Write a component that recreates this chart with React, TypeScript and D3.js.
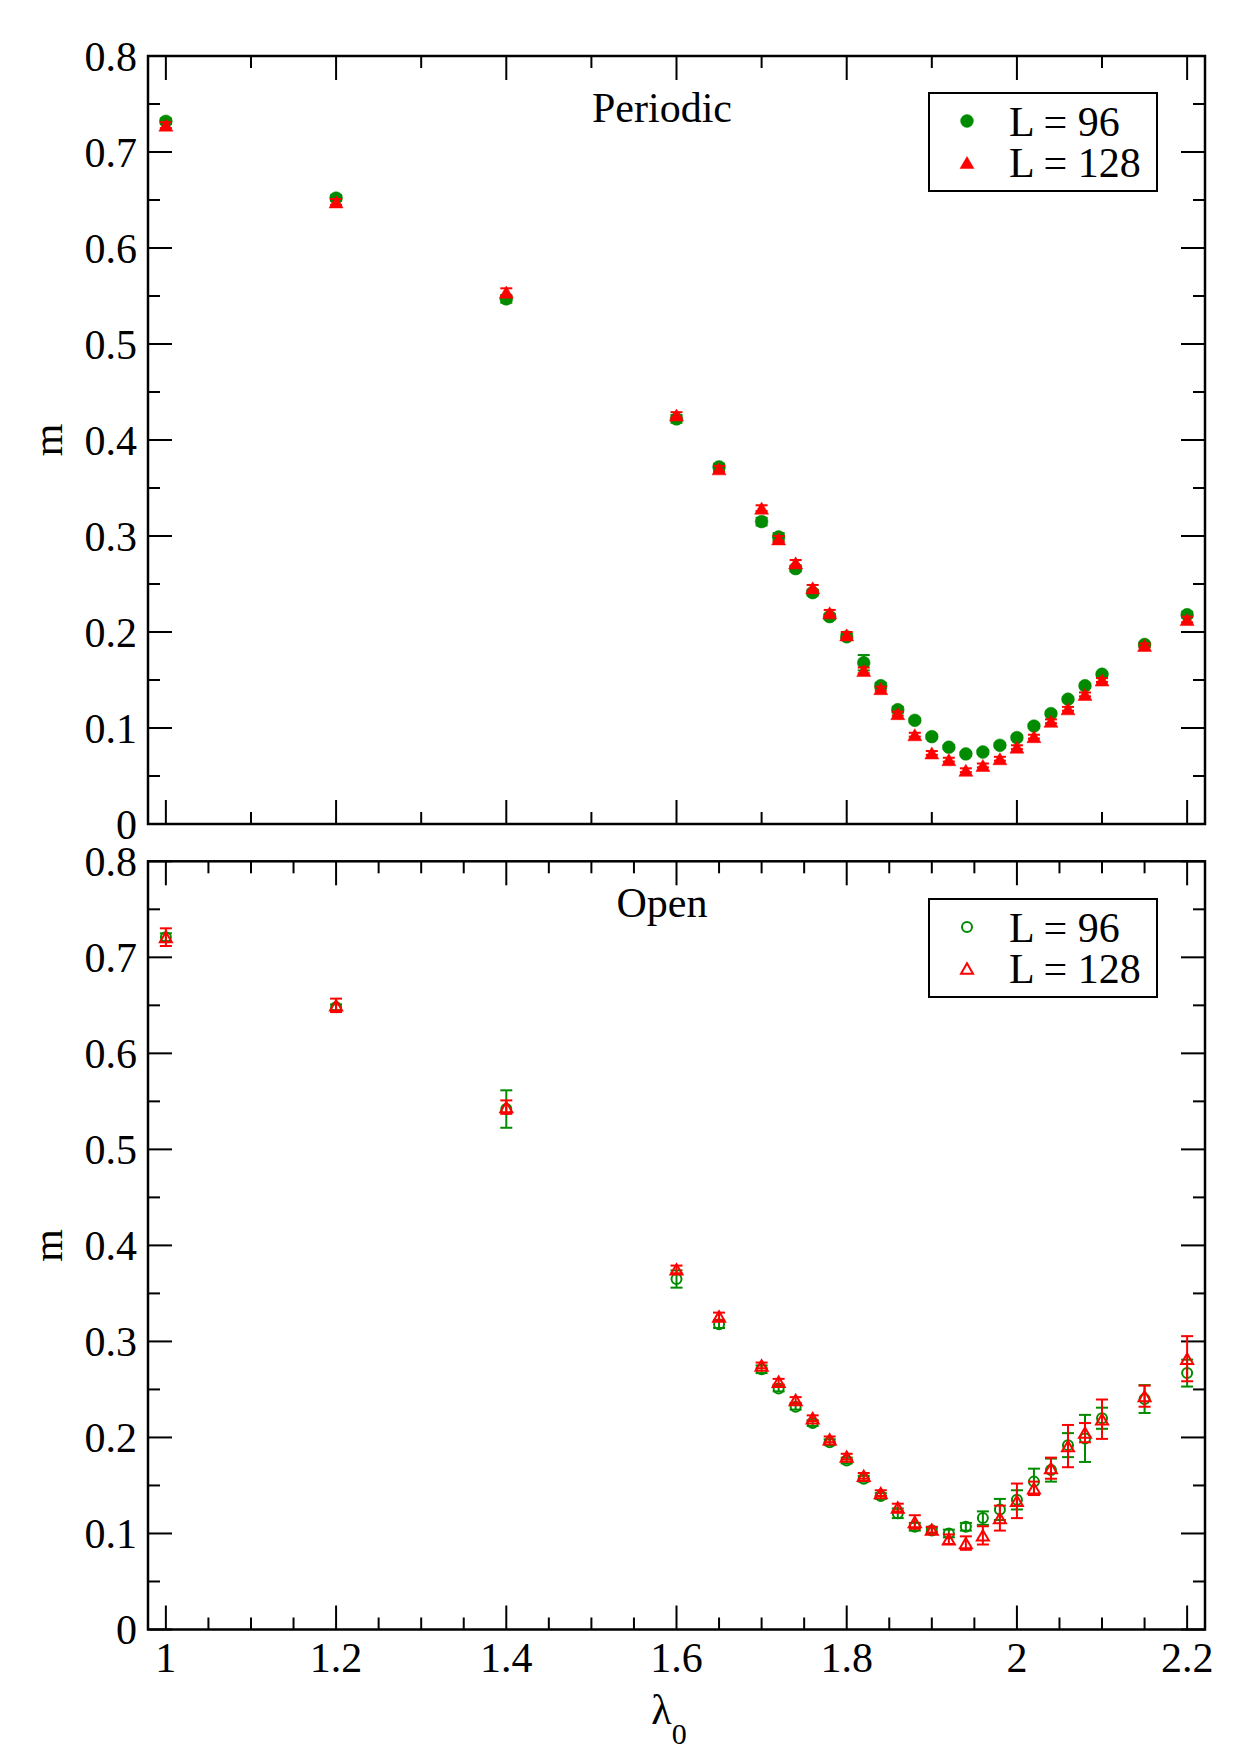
import React, { useEffect, useRef } from "react";
import * as d3 from "d3";

// coupling values shared by every set
const lambda0 = [1.0, 1.2, 1.4, 1.6, 1.65, 1.7, 1.72, 1.74, 1.76, 1.78, 1.8, 1.82, 1.84, 1.86,
    1.88, 1.9, 1.92, 1.94, 1.96, 1.98, 2.0, 2.02, 2.04, 2.06, 2.08, 2.1, 2.15, 2.2];

// periodic boundary conditions
const periodicL96 = [0.732, 0.652, 0.547, 0.422, 0.372, 0.315, 0.299, 0.266, 0.241, 0.216, 0.195, 0.168, 0.144, 0.119,
    0.108, 0.091, 0.080, 0.073, 0.075, 0.082, 0.090, 0.102, 0.115, 0.130, 0.144, 0.156, 0.187, 0.218];
const periodicL96Err = [0.003, 0.003, 0.004, 0.004, 0.003, 0.004, 0.004, 0.003, 0.003, 0.003, 0.003, 0.008, 0.003, 0.003,
    0.002, 0.002, 0.002, 0.002, 0.002, 0.002, 0.002, 0.002, 0.002, 0.002, 0.002, 0.002, 0.002, 0.003];
const periodicL128 = [0.728, 0.648, 0.554, 0.426, 0.370, 0.329, 0.297, 0.272, 0.246, 0.220, 0.197, 0.160, 0.141, 0.115,
    0.093, 0.074, 0.067, 0.056, 0.061, 0.068, 0.080, 0.091, 0.107, 0.120, 0.135, 0.150, 0.186, 0.213];
const periodicL128Err = [0.003, 0.003, 0.004, 0.003, 0.003, 0.003, 0.003, 0.003, 0.003, 0.003, 0.003, 0.003, 0.002, 0.002,
    0.002, 0.002, 0.002, 0.002, 0.002, 0.002, 0.002, 0.002, 0.002, 0.002, 0.002, 0.002, 0.002, 0.003];

// open boundary conditions
const openL96 = [0.721, 0.648, 0.542, 0.365, 0.318, 0.271, 0.251, 0.232, 0.215, 0.195, 0.176, 0.157, 0.139, 0.121,
    0.107, 0.103, 0.100, 0.107, 0.116, 0.125, 0.135, 0.154, 0.166, 0.192, 0.199, 0.220, 0.240, 0.267];
const openL96Err = [0.004, 0.003, 0.0195, 0.009, 0.004, 0.004, 0.003, 0.003, 0.003, 0.003, 0.003, 0.003, 0.003, 0.005,
    0.004, 0.003, 0.004, 0.004, 0.007, 0.011, 0.010, 0.0135, 0.012, 0.0125, 0.0245, 0.011, 0.0145, 0.014];
const openL128 = [0.721, 0.650, 0.544, 0.375, 0.326, 0.275, 0.258, 0.239, 0.220, 0.198, 0.180, 0.160, 0.142, 0.127,
    0.112, 0.104, 0.094, 0.090, 0.098, 0.116, 0.134, 0.147, 0.168, 0.191, 0.205, 0.219, 0.243, 0.282];
const openL128Err = [0.0092, 0.007, 0.007, 0.004, 0.004, 0.003, 0.003, 0.003, 0.003, 0.003, 0.003, 0.003, 0.003, 0.004,
    0.007, 0.003, 0.005, 0.007, 0.0095, 0.013, 0.018, 0.007, 0.011, 0.022, 0.010, 0.0205, 0.011, 0.0235];

const legendLabels = ["L = 96", "L = 128"];
const xTickValues = [1, 1.2, 1.4, 1.6, 1.8, 2, 2.2];
const yTickValues = [0, 0.1, 0.2, 0.3, 0.4, 0.5, 0.6, 0.7, 0.8];

const GREEN = "#008b00";
const RED = "#ff0000";
const FONT = "'Liberation Serif', 'Times New Roman', serif";

interface Series {
    values: number[];
    errors: number[];
    color: string;
    shape: "circle" | "triangle";
}

interface PanelOpts {
    top: number;
    bottom: number;
    title: string;
    titleY: number;
    filled: boolean;
    xMinorStep: number;
    showXLabels: boolean;
    legendTop: number;
    series: Series[];
}

const LEFT = 148, RIGHT = 1205;

function marker(sel: any, shape: string, color: string, filled: boolean) {
    if (shape === "circle") {
        sel.append("circle")
            .attr("r", filled ? 6.4 : 5)
            .attr("fill", filled ? color : "none")
            .attr("stroke", color)
            .attr("stroke-width", filled ? 0.5 : 2);
    } else {
        const s = filled ? 14 : 12;
        const h = s * Math.sqrt(3) / 2;
        sel.append("path")
            .attr("d", `M0,${-h / 2}L${s / 2},${h / 2}L${-s / 2},${h / 2}Z`)
            .attr("fill", filled ? color : "none")
            .attr("stroke", color)
            .attr("stroke-width", filled ? 0.5 : 2)
            .attr("stroke-linejoin", "miter");
    }
}

function drawPanel(svg: any, o: PanelOpts) {
    const x = d3.scaleLinear().domain([0.979, 2.221]).range([LEFT, RIGHT]);
    const y = d3.scaleLinear().domain([0, 0.8]).range([o.bottom, o.top]);
    const g = svg.append("g");

    // inward ticks on all four sides
    const xMajor = xTickValues;
    const xMinor = d3.range(1, 2.2001, o.xMinorStep)
        .map(v => +v.toFixed(3))
        .filter(v => !xMajor.some(m => Math.abs(m - v) < 1e-6));
    const yMinor = d3.range(0.05, 0.8, 0.1).map(v => +v.toFixed(3));

    const ticks = g.append("g").attr("stroke", "#000").attr("stroke-width", 2);
    const xt = (vals: number[], len: number) => {
        vals.forEach(v => {
            ticks.append("line").attr("x1", x(v)).attr("x2", x(v)).attr("y1", o.bottom).attr("y2", o.bottom - len);
            ticks.append("line").attr("x1", x(v)).attr("x2", x(v)).attr("y1", o.top).attr("y2", o.top + len);
        });
    };
    const yt = (vals: number[], len: number) => {
        vals.forEach(v => {
            ticks.append("line").attr("x1", LEFT).attr("x2", LEFT + len).attr("y1", y(v)).attr("y2", y(v));
            ticks.append("line").attr("x1", RIGHT).attr("x2", RIGHT - len).attr("y1", y(v)).attr("y2", y(v));
        });
    };
    xt(xMajor, 24);
    xt(xMinor, 12);
    yt(yTickValues, 24);
    yt(yMinor, 12);

    g.append("rect")
        .attr("x", LEFT).attr("y", o.top)
        .attr("width", RIGHT - LEFT).attr("height", o.bottom - o.top)
        .attr("fill", "none").attr("stroke", "#000").attr("stroke-width", 2.5);

    // tick labels
    g.selectAll(".ylab").data(yTickValues).enter().append("text")
        .attr("x", 137).attr("y", (d: number) => y(d) + 14.5)
        .attr("text-anchor", "end")
        .attr("font-family", FONT).attr("font-size", 42)
        .text((d: number) => d3.format("~g")(d));

    if (o.showXLabels) {
        g.selectAll(".xlab").data(xTickValues).enter().append("text")
            .attr("x", (d: number) => x(d)).attr("y", o.bottom + 42)
            .attr("text-anchor", "middle")
            .attr("font-family", FONT).attr("font-size", 42)
            .text((d: number) => d3.format("~g")(d));
    }

    // y axis title
    g.append("text")
        .attr("transform", `translate(62,${(o.top + o.bottom) / 2}) rotate(-90)`)
        .attr("text-anchor", "middle")
        .attr("font-family", FONT).attr("font-size", 42)
        .text("m");

    g.append("text")
        .attr("x", 662).attr("y", o.titleY)
        .attr("text-anchor", "middle")
        .attr("font-family", FONT).attr("font-size", 42)
        .text(o.title);

    // data sets with error bars
    o.series.forEach(s => {
        const sg = g.append("g");
        const pts = lambda0.map((l, i) => ({l, v: s.values[i], e: s.errors[i]}));
        const eb = sg.append("g").attr("stroke", s.color).attr("stroke-width", 2);
        pts.forEach(p => {
            const cx = x(p.l), y0 = y(p.v - p.e), y1 = y(p.v + p.e);
            eb.append("line").attr("x1", cx).attr("x2", cx).attr("y1", y0).attr("y2", y1);
            eb.append("line").attr("x1", cx - 6).attr("x2", cx + 6).attr("y1", y0).attr("y2", y0);
            eb.append("line").attr("x1", cx - 6).attr("x2", cx + 6).attr("y1", y1).attr("y2", y1);
        });
        pts.forEach(p => {
            const m = sg.append("g").attr("transform", `translate(${x(p.l)},${y(p.v)})`);
            marker(m, s.shape, s.color, o.filled);
        });
    });

    // legend
    const lg = g.append("g");
    lg.append("rect")
        .attr("x", 929).attr("y", o.legendTop)
        .attr("width", 228).attr("height", 98)
        .attr("fill", "#fff").attr("stroke", "#000").attr("stroke-width", 2);
    o.series.forEach((s, i) => {
        const rowY = o.legendTop + 28 + i * 41.5;
        const m = lg.append("g").attr("transform", `translate(967,${rowY})`);
        marker(m, s.shape, s.color, o.filled);
        lg.append("text")
            .attr("x", 1009).attr("y", rowY + 14.5)
            .attr("font-family", FONT).attr("font-size", 42)
            .text(legendLabels[i]);
    });
}

export default function App() {
    const ref = useRef<SVGSVGElement>(null);

    useEffect(() => {
        const svg = d3.select(ref.current);
        svg.selectAll("*").remove();

        svg.append("rect").attr("width", 1240).attr("height", 1755).attr("fill", "#fff");

        drawPanel(svg, {
            top: 56, bottom: 824, title: "Periodic", titleY: 122, filled: true,
            xMinorStep: 0.1, showXLabels: false, legendTop: 93,
            series: [
                {values: periodicL96, errors: periodicL96Err, color: GREEN, shape: "circle"},
                {values: periodicL128, errors: periodicL128Err, color: RED, shape: "triangle"},
            ],
        });
        drawPanel(svg, {
            top: 861.3, bottom: 1629.5, title: "Open", titleY: 917, filled: false,
            xMinorStep: 0.05, showXLabels: true, legendTop: 899,
            series: [
                {values: openL96, errors: openL96Err, color: GREEN, shape: "circle"},
                {values: openL128, errors: openL128Err, color: RED, shape: "triangle"},
            ],
        });

        // x axis title with subscript
        const xl = svg.append("text")
            .attr("x", 669).attr("y", 1724)
            .attr("text-anchor", "middle")
            .attr("font-family", FONT).attr("font-size", 42);
        xl.append("tspan").text("λ");
        xl.append("tspan").attr("font-size", 30).attr("dy", 20).text("0");
    });

    return (
        <svg ref={ref} width={1240} height={1755}
             style={{position: "absolute", left: 0, top: 0, display: "block"}}/>
    );
}
